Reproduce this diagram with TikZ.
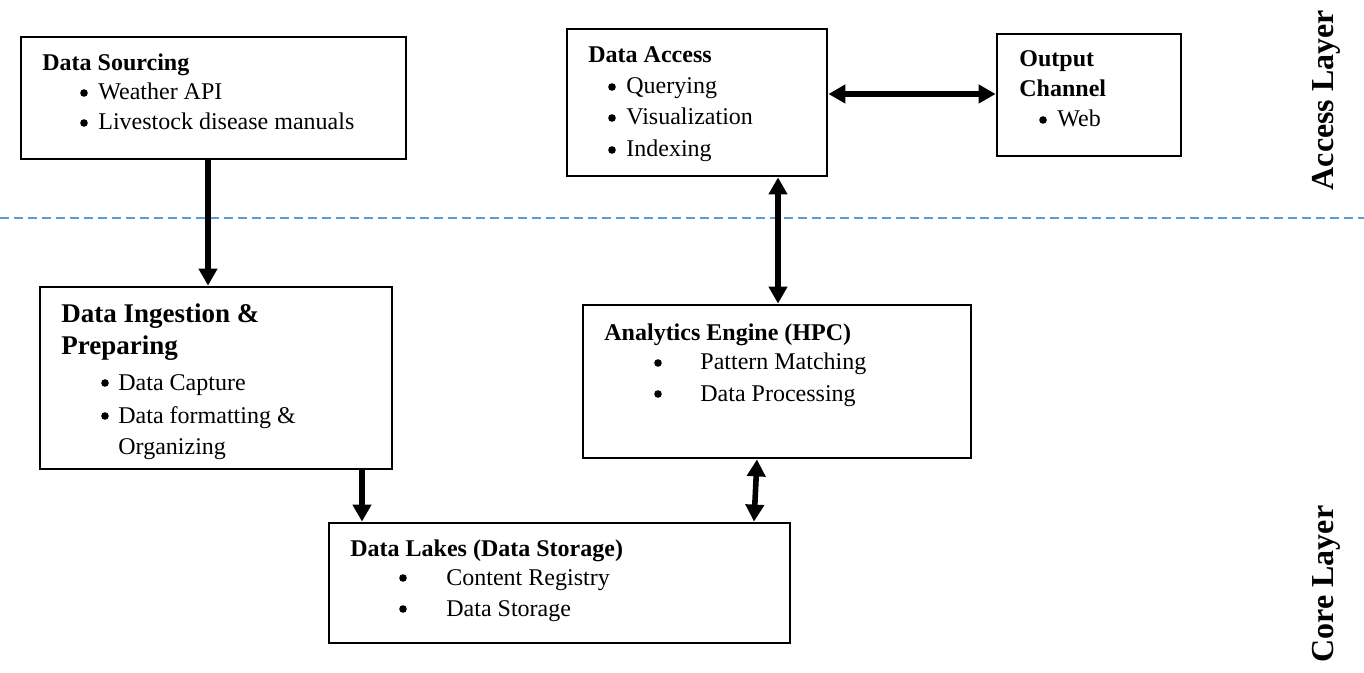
\documentclass[tikz,border=0pt]{standalone}
\usepackage{fontspec}
\setmainfont{Liberation Serif}
\usetikzlibrary{arrows.meta,fit}

\definecolor{layerblue}{HTML}{5B9BD5}

\tikzset{
  box/.style={draw=black, line width=1.4pt, inner sep=0pt, fill=none},
  txt/.style={inner sep=0pt, anchor=base west, font=\fontsize{12}{14}\selectfont},
  head/.style={txt, font=\fontsize{12}{14}\selectfont\bfseries},
  bighead/.style={txt, font=\fontsize{13.5}{16}\selectfont\bfseries},
  dot/.style={circle, fill=black, inner sep=0pt, minimum size=3.8pt, yshift=3.5pt},
  layer/.style={inner sep=0pt, anchor=base, rotate=90, font=\fontsize{16}{18}\selectfont\bfseries},
  arr/.style={line width=2.8pt, -{Triangle[length=8.5pt,width=9pt]}},
  biarr/.style={line width=2.8pt, {Triangle[length=8.5pt,width=9pt]}-{Triangle[length=8.5pt,width=9pt]}},
  divider/.style={draw=layerblue, line width=1pt, dash pattern=on 4.5pt off 2.5pt}
}

\begin{document}
\begin{tikzpicture}[x=0.5pt, y=-0.5pt]
  \useasboundingbox (0,0) rectangle (1364,673);

  % layer divider
  \coordinate (dl) at (0,218);
  \coordinate (dr) at (1364,218);
  \draw[divider] (dl) -- (dr);

  % layer labels
  \node[layer] (accL) at (1333,100) {Access Layer};
  \node[layer] (coreL) at (1333,584) {Core Layer};

  % boxes
  \node[box, fit={(21,37) (406,159)}] (src) {};
  \node[box, fit={(567,29) (827,176)}] (acc) {};
  \node[box, fit={(997,34) (1181,156)}] (out) {};
  \node[box, fit={(40,287) (392,469)}] (ing) {};
  \node[box, fit={(583,305) (971,458)}] (ana) {};
  \node[box, fit={(329,523) (790,643)}] (lake) {};

  % Data Sourcing (bullets sit on the baseline, raised by yshift)
  \node[head] (srcH) at (42,71) {Data Sourcing};
  \node[dot] (srcB1) at (84,100) {};
  \node[txt] (srcT1) at (98,100) {Weather API};
  \node[dot] (srcB2) at (84,130) {};
  \node[txt] (srcT2) at (98,130) {Livestock disease manuals};

  % Data Access
  \node[head] (accH) at (588,63) {Data Access};
  \node[dot] (accB1) at (612,94) {};
  \node[txt] (accT1) at (626,94) {Querying};
  \node[dot] (accB2) at (612,125) {};
  \node[txt] (accT2) at (626,125) {Visualization};
  \node[dot] (accB3) at (612,157) {};
  \node[txt] (accT3) at (626,157) {Indexing};

  % Output Channel
  \node[head] (outH1) at (1019,67) {Output};
  \node[head] (outH2) at (1019,97) {Channel};
  \node[dot] (outB1) at (1043,127) {};
  \node[txt] (outT1) at (1057,127) {Web};

  % Data Ingestion
  \node[bighead] (ingH1) at (61,323) {Data Ingestion \&};
  \node[bighead] (ingH2) at (61,355) {Preparing};
  \node[dot] (ingB1) at (105,390) {};
  \node[txt] (ingT1) at (118,390) {Data Capture};
  \node[dot] (ingB2) at (105,423) {};
  \node[txt] (ingT2) at (118,423) {Data formatting \&};
  \node[txt] (ingT3) at (118,454) {Organizing};

  % Analytics Engine
  \node[head] (anaH) at (604,341) {Analytics Engine (HPC)};
  \node[dot] (anaB1) at (658,370) {};
  \node[txt] (anaT1) at (700,370) {Pattern Matching};
  \node[dot] (anaB2) at (658,401) {};
  \node[txt] (anaT2) at (700,401) {Data Processing};

  % Data Lakes
  \node[head] (lakeH) at (350,556) {Data Lakes (Data Storage)};
  \node[dot] (lakeB1) at (403,585) {};
  \node[txt] (lakeT1) at (446,585) {Content Registry};
  \node[dot] (lakeB2) at (403,616) {};
  \node[txt] (lakeT2) at (446,616) {Data Storage};

  % connectors
  \draw[arr] (208,0 |- src.south) -- (208,0 |- ing.north);
  \draw[arr] (362,0 |- ing.south) -- (362,0 |- lake.north);
  \draw[biarr] (acc.east |- 0,94) -- (out.west |- 0,94);
  \draw[biarr] (778,0 |- acc.south) -- (778,0 |- ana.north);
  \draw[biarr] (757,0 |- ana.south) -- (754,0 |- lake.north);
\end{tikzpicture}
\end{document}
